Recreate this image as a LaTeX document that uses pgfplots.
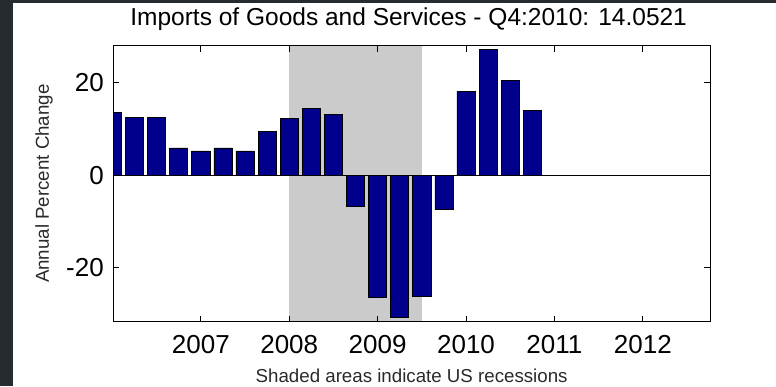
\documentclass[border=0pt]{standalone}
\usepackage{fontspec}
\setmainfont{Liberation Sans}
\usepackage{pgfplots}
\pgfplotsset{compat=1.18}
\definecolor{bg}{HTML}{262B30}
\definecolor{barblue}{HTML}{00008C}
\definecolor{shade}{HTML}{CBCBCB}
\definecolor{labgray}{HTML}{2A2A2A}
\begin{document}
\begin{tikzpicture}[x=1pt,y=1pt]
\useasboundingbox (0,0) rectangle (776,386);
\fill[bg] (0,0) rectangle (776,386);
\fill[white] (13.3,0) rectangle (776,382.7);
\begin{axis}[
  at={(113.3pt,64.3pt)}, anchor=south west,
  scale only axis, width=596.7pt, height=276pt,
  xmin=2006.01, xmax=2012.76, ymin=-31.7, ymax=28,
  xtick={2007,2008,2009,2010,2011,2012},
  xticklabels={2007,2008,2009,2010,2011,2012},
  ytick={-20,0,20}, yticklabels={-20,0,20},
  tick align=inside, major tick length=6pt,
  axis on top,
  axis line style={line width=0.8pt},
  tick style={line width=0.8pt,black},
  xticklabel style={font=\fontsize{26}{30}\selectfont, anchor=base, yshift=-31.5pt},
  yticklabel style={font=\fontsize{26}{30}\selectfont, anchor=east, inner sep=0pt, xshift=-9.3pt},
  title={Imports of Goods and Services - Q4:2010: 14.0521},
  title style={font=\fontsize{24.5}{28}\selectfont, at={(axis description cs:0.5,1)}, anchor=base, yshift=14pt, xshift=-3pt},
  xlabel={Shaded areas indicate US recessions},
  xlabel style={font=\fontsize{18.7}{22}\selectfont, text=labgray, at={(axis description cs:0.5,0)}, anchor=base, yshift=-60.6pt},
  ylabel={Annual Percent Change},
  ylabel style={font=\fontsize{18.7}{22}\selectfont, text=labgray, at={(axis description cs:-0.1161,0.5)}, anchor=center},
]
\addplot[draw=none, fill=shade, forget plot] coordinates {(2008,-40) (2008,40) (2009.5,40) (2009.5,-40)} -- cycle;
\addplot[ybar, bar width=0.205, bar shift=0pt, draw=black, fill=barblue, line width=0.6pt] coordinates {
(2006.00,13.55)(2006.25,12.5)(2006.50,12.5)(2006.75,5.9)
(2007.00,5.25)(2007.25,5.9)(2007.50,5.25)(2007.75,9.45)
(2008.00,12.25)(2008.25,14.5)(2008.50,13.1)(2008.75,-6.7)
(2009.00,-26.4)(2009.25,-30.85)(2009.50,-26.2)(2009.75,-7.35)
(2010.00,18.1)(2010.25,27.2)(2010.50,20.5)(2010.75,14.05)
};
\addplot[black, line width=0.8pt, forget plot] coordinates {(2005,0) (2013,0)};
\end{axis}
\end{tikzpicture}
\end{document}
